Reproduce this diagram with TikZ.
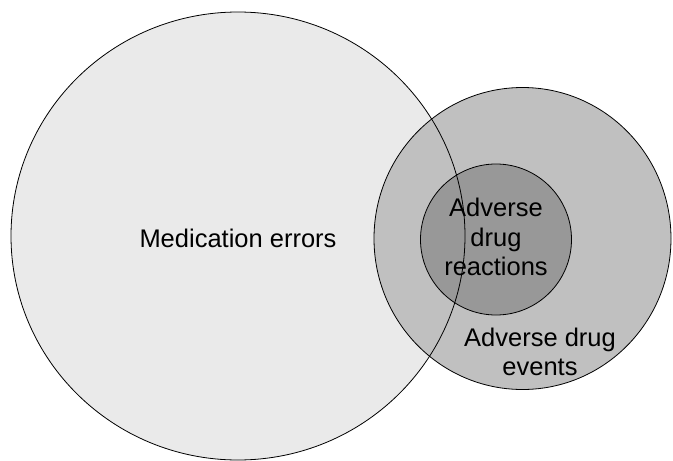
\documentclass[tikz,border=0pt]{standalone}
\usepackage{fontspec}
\setmainfont{Liberation Sans}
\definecolor{bigfill}{HTML}{EAEAEA}
\definecolor{midfill}{HTML}{C0C0C0}
\definecolor{smallfill}{HTML}{989898}
\tikzset{
  outline/.style={draw=black, line width=0.8pt},
  lbl/.style={align=center, inner sep=0pt, font=\fontsize{25.5}{29.5}\selectfont}
}
\begin{document}
\begin{tikzpicture}[x=1pt,y=-1pt]
\useasboundingbox (0,0) rectangle (673,461);
% large circle fill
\fill[bigfill] (238,236) ellipse [x radius=227, y radius=224];
% medium circle
\draw[outline, fill=midfill] (522.5,238.5) ellipse [x radius=148.5, y radius=151];
% small circle
\draw[outline, fill=smallfill] (496,239.5) circle [radius=75.5];
% large circle outline on top
\draw[outline] (238,236) ellipse [x radius=227, y radius=224];
% labels
\node[lbl] (med) at (238,238) {Medication errors};
\node[lbl] (adr) at (496,237) {Adverse\\drug\\reactions};
\node[lbl] (ade) at (540,352) {Adverse drug\\events};
\end{tikzpicture}
\end{document}
